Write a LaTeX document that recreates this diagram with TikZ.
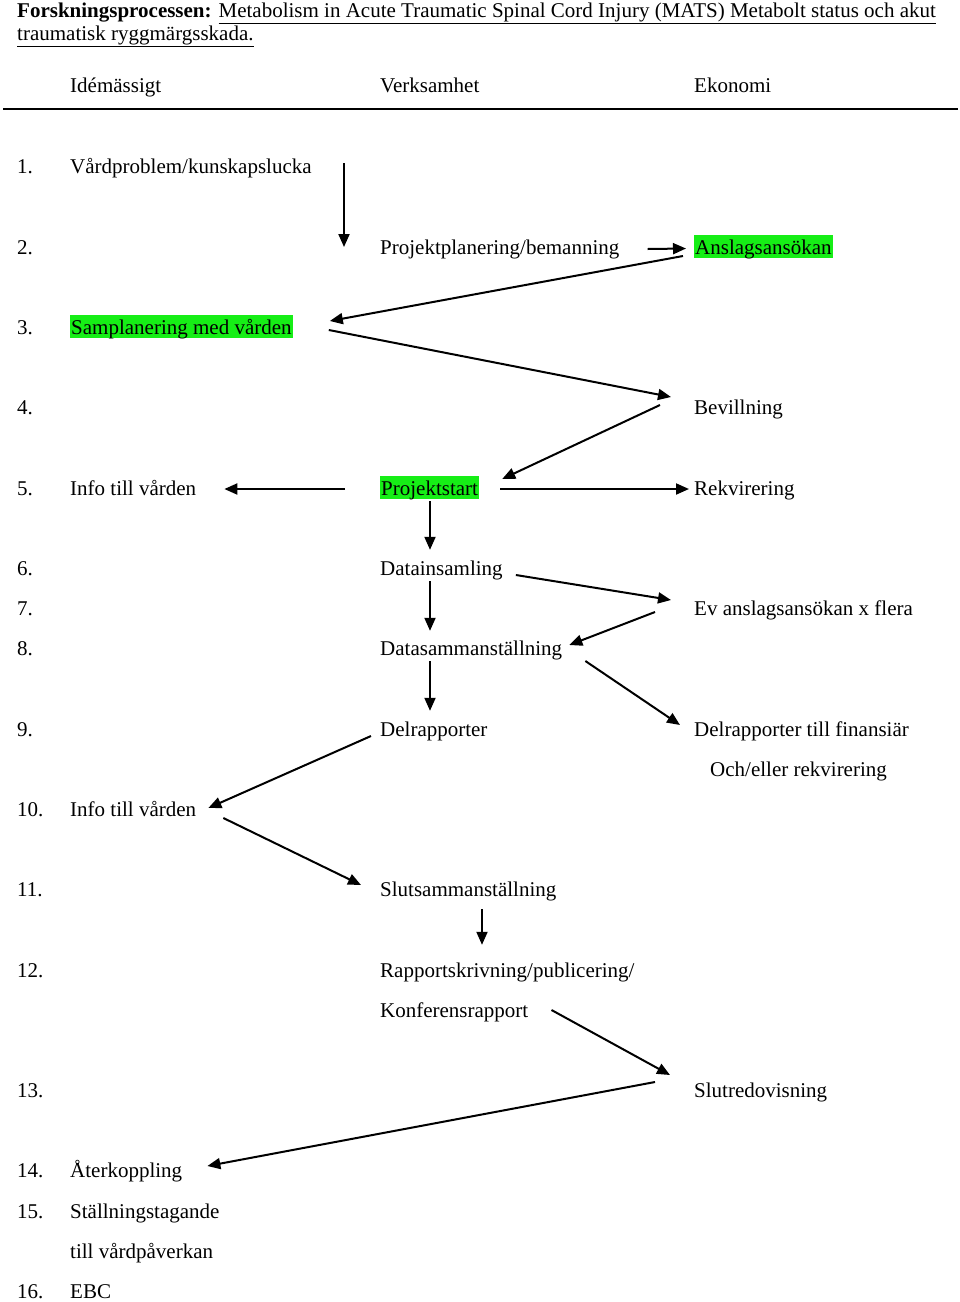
\documentclass[tikz,border=0pt]{standalone}
\usepackage{fontspec}
\setmainfont{Liberation Serif}
\usetikzlibrary{arrows.meta}
\usetikzlibrary{calc}
\definecolor{hlgreen}{RGB}{22,238,22}

\begin{document}
\begin{tikzpicture}[x=1pt,y=-1pt]
    \tikzstyle{txt} = [anchor=base west, inner sep=0pt, text height=15pt, text depth=5pt, font=\fontsize{21}{25}\selectfont];
    \tikzstyle{hl} = [txt, fill=hlgreen, inner xsep=1pt, text height=19pt, text depth=4pt];
    \tikzstyle{line} = [draw, line width=2pt, -{Triangle[length=13pt,width=11pt]}];
    \useasboundingbox (0,0) rectangle (960,1302);

    % title and column heads
    \node[txt] (title) at (17,17) {\textbf{Forskningsprocessen:} \underline{Metabolism in Acute Traumatic Spinal Cord Injury (MATS) Metabolt status och akut}};
    \node[txt] (title2) at (17,40) {\underline{traumatisk ryggmärgsskada.}};
    \node[txt] (hidea) at (70,92) {Idémässigt};
    \node[txt] (hverk) at (380,92) {Verksamhet};
    \node[txt] (hekon) at (694,92) {Ekonomi};
    \draw[line width=1.4pt] (3,109) -- (958,109);

    % step numbers
    \foreach \n/\y in {1/173,2/254,3/334,4/414,5/495,6/575,7/615,8/655,9/736,10/816,11/896,12/977,13/1097,14/1177,15/1218,16/1298}
        \node[txt] (num\n) at (17,\y) {\n.};

    \node[txt] (vard) at (70,173) {Vårdproblem/kunskapslucka};
    \node[txt] (plan) at (380,254) {Projektplanering/bemanning};
    \node[hl] (ansl) at (694,254) {Anslagsansökan};
    \node[hl] (samp) at (70,334) {Samplanering med vården};
    \node[txt] (bev) at (694,414) {Bevillning};
    \node[txt] (info1) at (70,495) {Info till vården};
    \node[hl] (pstart) at (380,495) {Projektstart};
    \node[txt] (rekv) at (694,495) {Rekvirering};
    \node[txt] (dins) at (380,575) {Datainsamling};
    \node[txt] (evans) at (694,615) {Ev anslagsansökan x flera};
    \node[txt] (dsam) at (380,655) {Datasammanställning};
    \node[txt] (delr) at (380,736) {Delrapporter};
    \node[txt] (delfin) at (694,736) {Delrapporter till finansiär};
    \node[txt] (ochel) at (710,776) {Och/eller rekvirering};
    \node[txt] (info2) at (70,816) {Info till vården};
    \node[txt] (slut) at (380,896) {Slutsammanställning};
    \node[txt] (rapp) at (380,977) {Rapportskrivning/publicering/};
    \node[txt] (konf) at (380,1017) {Konferensrapport};
    \node[txt] (slutred) at (694,1097) {Slutredovisning};
    \node[txt] (ater) at (70,1177) {Återkoppling};
    \node[txt] (still) at (70,1218) {Ställningstagande};
    \node[txt] (tillv) at (70,1258) {till vårdpåverkan};
    \node[txt] (ebc) at (70,1298) {EBC};

    \tikzstyle{every path}=[line]
    \path ($(plan.west)+(-36,-86)$) -- ($(plan.west)+(-36,-2)$);
    \path ($(plan.east)+(28,0)$) -- ($(ansl.west)+(-8,2)$);
    \path ($(ansl.west)+(-11,9.5)$) -- ($(samp.east)+(37,-5.5)$);
    \path ($(samp.east)+(36,3.5)$) -- ($(bev.west)+(-23,-12)$);
    \path ($(bev.west)+(-34,-4)$) -- ($(pstart.east)+(23,-8.5)$);
    \path ($(pstart.west)+(-35,1.5)$) -- ($(info1.east)+(28,-1)$);
    \path ($(pstart.east)+(21,1.5)$) -- ($(rekv.west)+(-5,-1)$);
    \path ($(pstart.south west)+(50,2)$) -- ($(dins.north west)+(50,-10)$);
    \path ($(dins.east)+(13,5)$) -- ($(evans.west)+(-23,-10)$);
    \path ($(evans.west)+(-39,2)$) -- ($(dsam.east)+(7,-5)$);
    \path ($(dins.south west)+(50,1)$) -- ($(dsam.north west)+(50,-9)$);
    \path ($(dsam.south west)+(50,1)$) -- ($(delr.north west)+(50,-10)$);
    \path ($(dsam.east)+(23,11)$) -- ($(delfin.west)+(-14,-6)$);
    \path ($(delr.west)+(-9,5)$) -- ($(info2.east)+(12,-3)$);
    \path ($(info2.east)+(27,7)$) -- ($(slut.west)+(-19,-6)$);
    \path ($(slut.south west)+(102,8)$) -- ($(rapp.north west)+(102,-17)$);
    \path ($(konf.east)+(23,-2)$) -- ($(slutred.west)+(-24,-17)$);
    \path ($(slutred.west)+(-39,-10)$) -- ($(ater.east)+(25,-6)$);
\end{tikzpicture}
\end{document}
